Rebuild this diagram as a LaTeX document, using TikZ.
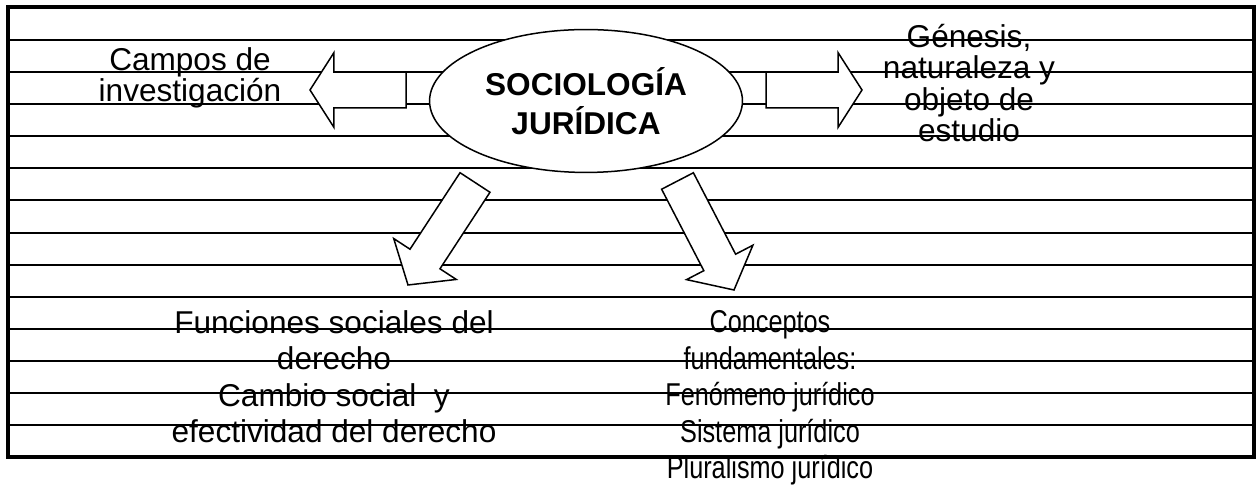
\documentclass[tikz,border=0pt]{standalone}
\usepackage{fontspec}
\setmainfont{Liberation Sans}
\newfontfamily\narrowsans[FakeStretch=0.8]{Liberation Sans}
\usetikzlibrary{shapes.geometric,calc}

\begin{document}
\begin{tikzpicture}[x=0.38pt,y=-0.38pt,
		rule/.style={line width=0.76pt},
		outerbox/.style={line width=1.33pt},
		blockarrow/.style={draw,line width=0.57pt,fill=white,
			to path={let \p1=($(\tikztotarget)-(\tikztostart)$),\n1={atan2(\y1,\x1)} in
				($(\tikztostart)+({\n1+90}:6.8pt)$)
				-- ($(\tikztotarget)+({\n1+180}:#1)+({\n1+90}:6.8pt)$)
				-- ($(\tikztotarget)+({\n1+180}:#1)+({\n1+90}:14.2pt)$)
				-- (\tikztotarget)
				-- ($(\tikztotarget)+({\n1+180}:#1)+({\n1-90}:14.2pt)$)
				-- ($(\tikztotarget)+({\n1+180}:#1)+({\n1-90}:6.8pt)$)
				-- ($(\tikztostart)+({\n1-90}:6.8pt)$) -- cycle}},
		blockarrow/.default=9.1pt,
		textblock/.style={align=center,inner sep=0pt,anchor=base,font=\fontsize{12}{12}\selectfont}]
		\useasboundingbox (0,0) rectangle (1257,485);
		\coordinate (l_start) at (406,90);
		\coordinate (l_end) at (310,90);
		\coordinate (r_start) at (766,90);
		\coordinate (r_end) at (862,90);
		\coordinate (dl_start) at (475,182.5);
		\coordinate (dl_end) at (408,285);
		\coordinate (dr_start) at (677.5,181);
		\coordinate (dr_end) at (734,290);
	
		\foreach \i in {1,...,13}
			\draw[rule] (8,{8+32.08*\i}) -- (1254,{8+32.08*\i});
		\draw[outerbox] (8,7) rectangle (1254,457);
	
		\node[draw,ellipse,line width=0.57pt,fill=white,inner sep=0pt,minimum width=118.9pt,minimum height=54.3pt,
			align=center,font=\bfseries\fontsize{12}{14.8}\selectfont] (socio) at (586,101) {SOCIOLOGÍA\\JURÍDICA};
	
		\draw[blockarrow] (l_start) to (l_end);
		\draw[blockarrow] (r_start) to (r_end);
		\draw[blockarrow=11.8pt] (dl_start) to (dl_end);
		\draw[blockarrow=11.8pt] (dr_start) to (dr_end);
	
		% anchor=base sits on the last line
		\node[textblock] (campos) at (190,102) {Campos de\\investigación};
		\node[textblock] (genesis) at (969,142) {Génesis,\\naturaleza y\\objeto de\\estudio};
		\node[textblock,font=\fontsize{12}{13.9}\selectfont] (funciones) at (334,443)
			{Funciones sociales del\\derecho\\Cambio social\ \ y\\efectividad del derecho};
		\node[textblock,font=\narrowsans\fontsize{12}{13.9}\selectfont] (conceptos) at (770,479)
			{Conceptos\\fundamentales:\\Fenómeno jurídico\\Sistema jurídico\\Pluralismo jurídico};
	\end{tikzpicture}
\end{document}
